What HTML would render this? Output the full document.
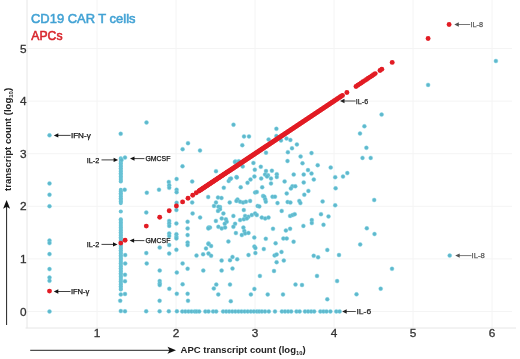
<!DOCTYPE html>
<html><head><meta charset="utf-8"><style>
html,body{margin:0;padding:0;background:#fff;}
body{width:520px;height:359px;overflow:hidden;}
svg{display:block;}
text{font-family:"Liberation Sans",Arial,sans-serif;}
</style></head><body>
<svg width="520" height="359" viewBox="0 0 520 359">
<rect width="520" height="359" fill="#fff"/>

<g stroke="#f4f4f4" stroke-width="1"><line x1="97" y1="0" x2="97" y2="328" /><line x1="176" y1="0" x2="176" y2="328" /><line x1="255" y1="0" x2="255" y2="328" /><line x1="334" y1="0" x2="334" y2="328" /><line x1="413" y1="0" x2="413" y2="328" /><line x1="492" y1="0" x2="492" y2="328" /><line x1="27" y1="311.5" x2="512" y2="311.5" /><line x1="27" y1="258.9" x2="512" y2="258.9" /><line x1="27" y1="206.3" x2="512" y2="206.3" /><line x1="27" y1="153.7" x2="512" y2="153.7" /><line x1="27" y1="101.1" x2="512" y2="101.1" /><line x1="27" y1="48.5" x2="512" y2="48.5" /></g>
<g stroke="#e6e6e6" stroke-width="1"><line x1="27" y1="0" x2="27" y2="328.2"/><line x1="25.5" y1="328" x2="516" y2="328"/></g>
<g font-size="11.8" fill="#333" stroke="#333" stroke-width="0.3"><text x="26.6" y="315.6" text-anchor="end">0</text><text x="26.6" y="263.0" text-anchor="end">1</text><text x="26.6" y="210.4" text-anchor="end">2</text><text x="26.6" y="157.8" text-anchor="end">3</text><text x="26.6" y="105.2" text-anchor="end">4</text><text x="26.6" y="52.6" text-anchor="end">5</text><text x="97" y="336.9" text-anchor="middle">1</text><text x="176" y="336.9" text-anchor="middle">2</text><text x="255" y="336.9" text-anchor="middle">3</text><text x="334" y="336.9" text-anchor="middle">4</text><text x="413" y="336.9" text-anchor="middle">5</text><text x="492" y="336.9" text-anchor="middle">6</text></g>
<text x="31" y="23.1" font-size="13" font-weight="normal" fill="#42a2d4" stroke="#42a2d4" stroke-width="0.55" textLength="104.5" lengthAdjust="spacingAndGlyphs">CD19 CAR T cells</text>
<text x="31.3" y="40.2" font-size="12.5" font-weight="normal" fill="#d8262d" stroke="#d8262d" stroke-width="0.55" textLength="31.2" lengthAdjust="spacingAndGlyphs">APCs</text>
<text x="180.6" y="353" font-size="9.9" font-weight="bold" fill="#222" textLength="125" lengthAdjust="spacingAndGlyphs">APC transcript count (log<tspan font-size="6" dy="2">10</tspan><tspan dy="-2">)</tspan></text>
<text transform="translate(10.5,191) rotate(-90)" x="0" y="0" font-size="9.6" font-weight="bold" fill="#222">transcript count (log<tspan font-size="6" dy="2">10</tspan><tspan dy="-2">)</tspan></text>
<g stroke="#222" stroke-width="1"><line x1="30.2" y1="350.3" x2="170" y2="350.3"/><line x1="6.6" y1="206" x2="6.6" y2="325"/></g>
<path d="M176,350.3 L167.5,346.8 L169.5,350.3 L167.5,353.8 Z" fill="#111"/>
<path d="M6.6,200 L3.1,208.8 L6.6,206.8 L10.1,208.8 Z" fill="#111"/>
<g fill="#68c2d5"><circle cx="120.8" cy="211.5" r="2.05"/><circle cx="120.8" cy="158.4" r="2.05"/><circle cx="120.8" cy="160.0" r="2.05"/><circle cx="120.8" cy="161.7" r="2.05"/><circle cx="120.8" cy="163.3" r="2.05"/><circle cx="120.8" cy="165.0" r="2.05"/><circle cx="120.8" cy="166.6" r="2.05"/><circle cx="120.8" cy="168.3" r="2.05"/><circle cx="120.8" cy="169.9" r="2.05"/><circle cx="120.8" cy="171.5" r="2.05"/><circle cx="120.8" cy="173.2" r="2.05"/><circle cx="120.8" cy="174.8" r="2.05"/><circle cx="120.8" cy="176.5" r="2.05"/><circle cx="120.8" cy="178.1" r="2.05"/><circle cx="120.8" cy="179.8" r="2.05"/><circle cx="120.8" cy="181.4" r="2.05"/><circle cx="120.8" cy="189.9" r="2.05"/><circle cx="120.8" cy="191.6" r="2.05"/><circle cx="120.8" cy="193.2" r="2.05"/><circle cx="120.8" cy="194.8" r="2.05"/><circle cx="120.8" cy="196.5" r="2.05"/><circle cx="120.8" cy="198.2" r="2.05"/><circle cx="120.8" cy="199.8" r="2.05"/><circle cx="120.8" cy="201.4" r="2.05"/><circle cx="120.8" cy="203.1" r="2.05"/><circle cx="120.8" cy="219.2" r="2.05"/><circle cx="120.8" cy="220.8" r="2.05"/><circle cx="120.8" cy="222.5" r="2.05"/><circle cx="120.8" cy="224.1" r="2.05"/><circle cx="120.8" cy="225.7" r="2.05"/><circle cx="120.8" cy="227.4" r="2.05"/><circle cx="120.8" cy="229.0" r="2.05"/><circle cx="120.8" cy="230.6" r="2.05"/><circle cx="120.8" cy="232.3" r="2.05"/><circle cx="120.8" cy="233.9" r="2.05"/><circle cx="120.8" cy="235.5" r="2.05"/><circle cx="120.8" cy="237.2" r="2.05"/><circle cx="120.8" cy="238.8" r="2.05"/><circle cx="120.8" cy="240.5" r="2.05"/><circle cx="120.8" cy="242.1" r="2.05"/><circle cx="120.8" cy="243.7" r="2.05"/><circle cx="120.8" cy="245.4" r="2.05"/><circle cx="120.8" cy="247.0" r="2.05"/><circle cx="120.8" cy="248.6" r="2.05"/><circle cx="120.8" cy="250.3" r="2.05"/><circle cx="120.8" cy="251.9" r="2.05"/><circle cx="120.8" cy="253.5" r="2.05"/><circle cx="120.8" cy="255.2" r="2.05"/><circle cx="120.8" cy="256.8" r="2.05"/><circle cx="120.8" cy="258.4" r="2.05"/><circle cx="120.8" cy="260.1" r="2.05"/><circle cx="120.8" cy="261.7" r="2.05"/><circle cx="120.8" cy="263.3" r="2.05"/><circle cx="120.8" cy="265.0" r="2.05"/><circle cx="120.8" cy="266.6" r="2.05"/><circle cx="120.8" cy="268.2" r="2.05"/><circle cx="120.8" cy="269.9" r="2.05"/><circle cx="120.8" cy="271.5" r="2.05"/><circle cx="120.8" cy="273.2" r="2.05"/><circle cx="120.8" cy="274.8" r="2.05"/><circle cx="120.8" cy="276.4" r="2.05"/><circle cx="120.8" cy="278.1" r="2.05"/><circle cx="120.8" cy="279.7" r="2.05"/><circle cx="120.8" cy="281.3" r="2.05"/><circle cx="120.8" cy="283.0" r="2.05"/><circle cx="120.8" cy="284.6" r="2.05"/><circle cx="120.8" cy="286.2" r="2.05"/><circle cx="120.8" cy="287.9" r="2.05"/><circle cx="120.8" cy="289.5" r="2.05"/></g>
<g fill="#5fb8cc" stroke="rgba(125,215,232,0.6)" stroke-width="0.7"><circle cx="49.5" cy="135.3" r="2.0"/><circle cx="120.7" cy="133.8" r="2.0"/><circle cx="146.5" cy="122.5" r="2.0"/><circle cx="125.0" cy="157.6" r="2.0"/><circle cx="121.5" cy="160.0" r="2.0"/><circle cx="49.5" cy="183.4" r="2.0"/><circle cx="49.5" cy="194.7" r="2.0"/><circle cx="124.7" cy="189.7" r="2.0"/><circle cx="146.8" cy="192.7" r="2.0"/><circle cx="159.0" cy="189.7" r="2.0"/><circle cx="233.5" cy="124.7" r="2.0"/><circle cx="244.0" cy="136.4" r="2.0"/><circle cx="249.0" cy="136.4" r="2.0"/><circle cx="242.3" cy="145.2" r="2.0"/><circle cx="188.0" cy="143.2" r="2.0"/><circle cx="182.6" cy="149.2" r="2.0"/><circle cx="200.0" cy="150.5" r="2.0"/><circle cx="182.5" cy="166.3" r="2.0"/><circle cx="216.0" cy="171.2" r="2.0"/><circle cx="235.5" cy="161.4" r="2.0"/><circle cx="168.8" cy="181.9" r="2.0"/><circle cx="169.2" cy="185.2" r="2.0"/><circle cx="169.2" cy="187.8" r="2.0"/><circle cx="176.6" cy="179.0" r="2.0"/><circle cx="192.2" cy="181.5" r="2.0"/><circle cx="176.6" cy="189.7" r="2.0"/><circle cx="176.6" cy="192.2" r="2.0"/><circle cx="176.6" cy="202.8" r="2.0"/><circle cx="192.2" cy="202.4" r="2.0"/><circle cx="208.2" cy="197.0" r="2.0"/><circle cx="218.0" cy="197.5" r="2.0"/><circle cx="221.5" cy="198.0" r="2.0"/><circle cx="223.8" cy="187.8" r="2.0"/><circle cx="228.7" cy="181.0" r="2.0"/><circle cx="230.0" cy="179.0" r="2.0"/><circle cx="236.5" cy="177.0" r="2.0"/><circle cx="237.5" cy="199.5" r="2.0"/><circle cx="229.7" cy="202.4" r="2.0"/><circle cx="216.0" cy="202.4" r="2.0"/><circle cx="214.0" cy="205.9" r="2.0"/><circle cx="220.0" cy="207.0" r="2.0"/><circle cx="276.4" cy="128.8" r="2.0"/><circle cx="268.6" cy="139.5" r="2.0"/><circle cx="276.4" cy="136.0" r="2.0"/><circle cx="281.0" cy="140.5" r="2.0"/><circle cx="286.5" cy="138.5" r="2.0"/><circle cx="290.4" cy="140.0" r="2.0"/><circle cx="296.9" cy="144.4" r="2.0"/><circle cx="292.0" cy="148.3" r="2.0"/><circle cx="287.9" cy="152.2" r="2.0"/><circle cx="266.0" cy="152.7" r="2.0"/><circle cx="311.5" cy="153.1" r="2.0"/><circle cx="300.6" cy="156.5" r="2.0"/><circle cx="287.5" cy="161.0" r="2.0"/><circle cx="302.5" cy="163.3" r="2.0"/><circle cx="317.7" cy="165.2" r="2.0"/><circle cx="330.7" cy="167.6" r="2.0"/><circle cx="234.9" cy="161.9" r="2.0"/><circle cx="238.8" cy="161.3" r="2.0"/><circle cx="242.7" cy="166.4" r="2.0"/><circle cx="253.4" cy="162.9" r="2.0"/><circle cx="260.8" cy="166.8" r="2.0"/><circle cx="254.8" cy="169.7" r="2.0"/><circle cx="266.0" cy="171.0" r="2.0"/><circle cx="271.9" cy="170.7" r="2.0"/><circle cx="265.0" cy="174.6" r="2.0"/><circle cx="268.0" cy="175.2" r="2.0"/><circle cx="267.0" cy="176.5" r="2.0"/><circle cx="276.8" cy="174.2" r="2.0"/><circle cx="276.8" cy="177.0" r="2.0"/><circle cx="254.4" cy="176.5" r="2.0"/><circle cx="261.2" cy="178.5" r="2.0"/><circle cx="250.5" cy="179.5" r="2.0"/><circle cx="247.5" cy="182.8" r="2.0"/><circle cx="236.8" cy="177.5" r="2.0"/><circle cx="231.0" cy="178.5" r="2.0"/><circle cx="271.0" cy="178.5" r="2.0"/><circle cx="271.0" cy="183.4" r="2.0"/><circle cx="284.6" cy="181.4" r="2.0"/><circle cx="293.7" cy="174.6" r="2.0"/><circle cx="303.7" cy="174.6" r="2.0"/><circle cx="308.0" cy="170.1" r="2.0"/><circle cx="311.5" cy="173.6" r="2.0"/><circle cx="313.8" cy="179.5" r="2.0"/><circle cx="303.7" cy="182.4" r="2.0"/><circle cx="292.4" cy="186.3" r="2.0"/><circle cx="295.3" cy="186.3" r="2.0"/><circle cx="240.7" cy="187.3" r="2.0"/><circle cx="262.2" cy="187.3" r="2.0"/><circle cx="381.6" cy="114.6" r="2.0"/><circle cx="364.4" cy="126.3" r="2.0"/><circle cx="360.0" cy="133.5" r="2.0"/><circle cx="366.4" cy="147.8" r="2.0"/><circle cx="362.5" cy="157.9" r="2.0"/><circle cx="370.7" cy="157.9" r="2.0"/><circle cx="495.9" cy="61.0" r="2.0"/><circle cx="428.1" cy="84.9" r="2.0"/><circle cx="146.3" cy="212.5" r="2.0"/><circle cx="146.3" cy="253.1" r="2.0"/><circle cx="159.7" cy="247.6" r="2.0"/><circle cx="169.2" cy="220.9" r="2.0"/><circle cx="169.2" cy="223.4" r="2.0"/><circle cx="169.2" cy="225.9" r="2.0"/><circle cx="169.2" cy="233.4" r="2.0"/><circle cx="169.2" cy="235.9" r="2.0"/><circle cx="169.2" cy="245.1" r="2.0"/><circle cx="169.2" cy="253.5" r="2.0"/><circle cx="176.4" cy="210.0" r="2.0"/><circle cx="176.4" cy="223.4" r="2.0"/><circle cx="176.4" cy="234.2" r="2.0"/><circle cx="176.4" cy="236.8" r="2.0"/><circle cx="176.4" cy="238.4" r="2.0"/><circle cx="176.4" cy="249.8" r="2.0"/><circle cx="187.6" cy="221.7" r="2.0"/><circle cx="187.6" cy="228.4" r="2.0"/><circle cx="187.6" cy="235.1" r="2.0"/><circle cx="187.6" cy="242.6" r="2.0"/><circle cx="187.6" cy="245.1" r="2.0"/><circle cx="192.6" cy="213.4" r="2.0"/><circle cx="200.1" cy="217.5" r="2.0"/><circle cx="208.5" cy="227.6" r="2.0"/><circle cx="208.5" cy="243.4" r="2.0"/><circle cx="206.0" cy="248.4" r="2.0"/><circle cx="203.1" cy="254.3" r="2.0"/><circle cx="196.5" cy="255.6" r="2.0"/><circle cx="208.5" cy="253.5" r="2.0"/><circle cx="255.1" cy="192.5" r="2.0"/><circle cx="256.8" cy="192.0" r="2.0"/><circle cx="263.1" cy="195.9" r="2.0"/><circle cx="264.3" cy="196.7" r="2.0"/><circle cx="265.2" cy="199.2" r="2.0"/><circle cx="236.4" cy="200.9" r="2.0"/><circle cx="240.1" cy="201.7" r="2.0"/><circle cx="243.1" cy="202.6" r="2.0"/><circle cx="245.9" cy="201.7" r="2.0"/><circle cx="250.1" cy="200.9" r="2.0"/><circle cx="218.4" cy="206.7" r="2.0"/><circle cx="220.0" cy="209.2" r="2.0"/><circle cx="218.0" cy="210.9" r="2.0"/><circle cx="257.6" cy="205.9" r="2.0"/><circle cx="259.3" cy="206.4" r="2.0"/><circle cx="243.8" cy="210.1" r="2.0"/><circle cx="223.4" cy="213.4" r="2.0"/><circle cx="233.4" cy="215.9" r="2.0"/><circle cx="245.1" cy="215.9" r="2.0"/><circle cx="248.4" cy="216.8" r="2.0"/><circle cx="251.8" cy="215.1" r="2.0"/><circle cx="255.1" cy="213.4" r="2.0"/><circle cx="256.8" cy="215.1" r="2.0"/><circle cx="221.7" cy="218.4" r="2.0"/><circle cx="225.9" cy="219.3" r="2.0"/><circle cx="226.7" cy="221.8" r="2.0"/><circle cx="224.7" cy="223.8" r="2.0"/><circle cx="215.9" cy="220.9" r="2.0"/><circle cx="240.1" cy="220.1" r="2.0"/><circle cx="243.8" cy="219.3" r="2.0"/><circle cx="246.8" cy="218.4" r="2.0"/><circle cx="261.8" cy="217.6" r="2.0"/><circle cx="265.2" cy="218.4" r="2.0"/><circle cx="268.5" cy="217.6" r="2.0"/><circle cx="235.1" cy="223.8" r="2.0"/><circle cx="210.0" cy="227.6" r="2.0"/><circle cx="208.4" cy="228.4" r="2.0"/><circle cx="218.4" cy="226.8" r="2.0"/><circle cx="221.7" cy="228.4" r="2.0"/><circle cx="225.1" cy="227.6" r="2.0"/><circle cx="233.4" cy="226.8" r="2.0"/><circle cx="243.4" cy="227.6" r="2.0"/><circle cx="244.3" cy="231.0" r="2.0"/><circle cx="245.1" cy="233.5" r="2.0"/><circle cx="241.8" cy="235.1" r="2.0"/><circle cx="235.9" cy="233.1" r="2.0"/><circle cx="254.3" cy="237.6" r="2.0"/><circle cx="228.4" cy="241.5" r="2.0"/><circle cx="290.9" cy="188.4" r="2.0"/><circle cx="308.4" cy="190.9" r="2.0"/><circle cx="286.7" cy="193.4" r="2.0"/><circle cx="304.3" cy="194.7" r="2.0"/><circle cx="272.5" cy="196.7" r="2.0"/><circle cx="275.0" cy="196.7" r="2.0"/><circle cx="265.8" cy="201.7" r="2.0"/><circle cx="277.5" cy="203.1" r="2.0"/><circle cx="287.6" cy="202.0" r="2.0"/><circle cx="290.4" cy="202.6" r="2.0"/><circle cx="299.3" cy="200.9" r="2.0"/><circle cx="300.4" cy="203.1" r="2.0"/><circle cx="322.6" cy="201.4" r="2.0"/><circle cx="281.7" cy="210.9" r="2.0"/><circle cx="290.1" cy="215.9" r="2.0"/><circle cx="292.6" cy="215.1" r="2.0"/><circle cx="294.7" cy="214.2" r="2.0"/><circle cx="321.0" cy="214.2" r="2.0"/><circle cx="328.5" cy="216.4" r="2.0"/><circle cx="311.8" cy="220.1" r="2.0"/><circle cx="311.8" cy="223.1" r="2.0"/><circle cx="323.5" cy="224.8" r="2.0"/><circle cx="303.4" cy="225.9" r="2.0"/><circle cx="273.0" cy="228.8" r="2.0"/><circle cx="285.9" cy="230.5" r="2.0"/><circle cx="290.1" cy="228.8" r="2.0"/><circle cx="265.8" cy="238.8" r="2.0"/><circle cx="283.4" cy="238.5" r="2.0"/><circle cx="286.7" cy="238.5" r="2.0"/><circle cx="335.2" cy="177.2" r="2.0"/><circle cx="343.0" cy="176.6" r="2.0"/><circle cx="347.3" cy="173.1" r="2.0"/><circle cx="335.6" cy="188.3" r="2.0"/><circle cx="335.2" cy="205.3" r="2.0"/><circle cx="374.2" cy="200.0" r="2.0"/><circle cx="366.8" cy="228.3" r="2.0"/><circle cx="248.5" cy="232.9" r="2.0"/><circle cx="208.5" cy="244.0" r="2.0"/><circle cx="211.1" cy="246.0" r="2.0"/><circle cx="254.4" cy="246.6" r="2.0"/><circle cx="255.4" cy="248.0" r="2.0"/><circle cx="263.8" cy="249.1" r="2.0"/><circle cx="211.1" cy="255.8" r="2.0"/><circle cx="221.6" cy="260.6" r="2.0"/><circle cx="230.0" cy="260.2" r="2.0"/><circle cx="232.5" cy="256.9" r="2.0"/><circle cx="237.2" cy="259.3" r="2.0"/><circle cx="248.5" cy="255.0" r="2.0"/><circle cx="255.4" cy="253.0" r="2.0"/><circle cx="203.3" cy="270.6" r="2.0"/><circle cx="221.6" cy="270.6" r="2.0"/><circle cx="232.5" cy="268.6" r="2.0"/><circle cx="259.9" cy="275.9" r="2.0"/><circle cx="216.3" cy="284.6" r="2.0"/><circle cx="213.8" cy="288.5" r="2.0"/><circle cx="230.0" cy="284.6" r="2.0"/><circle cx="218.3" cy="294.4" r="2.0"/><circle cx="254.4" cy="288.9" r="2.0"/><circle cx="250.9" cy="294.4" r="2.0"/><circle cx="267.7" cy="294.4" r="2.0"/><circle cx="275.6" cy="243.3" r="2.0"/><circle cx="293.6" cy="241.7" r="2.0"/><circle cx="281.5" cy="251.9" r="2.0"/><circle cx="274.6" cy="255.4" r="2.0"/><circle cx="276.6" cy="254.4" r="2.0"/><circle cx="276.6" cy="262.2" r="2.0"/><circle cx="283.8" cy="260.6" r="2.0"/><circle cx="274.0" cy="271.0" r="2.0"/><circle cx="313.7" cy="255.8" r="2.0"/><circle cx="318.1" cy="257.3" r="2.0"/><circle cx="327.3" cy="249.9" r="2.0"/><circle cx="339.0" cy="255.0" r="2.0"/><circle cx="317.0" cy="275.9" r="2.0"/><circle cx="337.1" cy="281.1" r="2.0"/><circle cx="295.5" cy="284.6" r="2.0"/><circle cx="302.0" cy="285.0" r="2.0"/><circle cx="283.0" cy="294.4" r="2.0"/><circle cx="327.3" cy="299.3" r="2.0"/><circle cx="374.5" cy="234.0" r="2.0"/><circle cx="360.2" cy="244.4" r="2.0"/><circle cx="392.0" cy="268.8" r="2.0"/><circle cx="380.7" cy="288.7" r="2.0"/><circle cx="146.7" cy="263.4" r="2.0"/><circle cx="182.6" cy="263.4" r="2.0"/><circle cx="187.6" cy="268.7" r="2.0"/><circle cx="159.7" cy="270.6" r="2.0"/><circle cx="176.8" cy="272.6" r="2.0"/><circle cx="159.7" cy="281.0" r="2.0"/><circle cx="159.7" cy="283.4" r="2.0"/><circle cx="159.7" cy="285.1" r="2.0"/><circle cx="182.6" cy="284.3" r="2.0"/><circle cx="169.3" cy="288.8" r="2.0"/><circle cx="176.8" cy="293.8" r="2.0"/><circle cx="187.6" cy="293.8" r="2.0"/><circle cx="125.0" cy="274.8" r="2.0"/><circle cx="125.0" cy="281.2" r="2.0"/><circle cx="125.0" cy="294.0" r="2.0"/><circle cx="120.2" cy="300.8" r="2.0"/><circle cx="125.0" cy="311.3" r="2.0"/><circle cx="146.2" cy="311.3" r="2.0"/><circle cx="159.6" cy="300.8" r="2.0"/><circle cx="159.6" cy="311.3" r="2.0"/><circle cx="168.8" cy="311.3" r="2.0"/><circle cx="176.9" cy="311.3" r="2.0"/><circle cx="188.0" cy="300.8" r="2.0"/><circle cx="230.8" cy="301.2" r="2.0"/><circle cx="356.5" cy="294.3" r="2.0"/><circle cx="182.3" cy="311.4" r="2.0"/><circle cx="185.4" cy="311.4" r="2.0"/><circle cx="188.5" cy="311.4" r="2.0"/><circle cx="191.5" cy="311.4" r="2.0"/><circle cx="194.6" cy="311.4" r="2.0"/><circle cx="196.6" cy="311.4" r="2.0"/><circle cx="199.2" cy="311.4" r="2.0"/><circle cx="205.4" cy="311.4" r="2.0"/><circle cx="208.5" cy="311.4" r="2.0"/><circle cx="213.1" cy="311.4" r="2.0"/><circle cx="216.2" cy="311.4" r="2.0"/><circle cx="223.1" cy="311.4" r="2.0"/><circle cx="226.2" cy="311.4" r="2.0"/><circle cx="229.2" cy="311.4" r="2.0"/><circle cx="232.3" cy="311.4" r="2.0"/><circle cx="235.4" cy="311.4" r="2.0"/><circle cx="238.5" cy="311.4" r="2.0"/><circle cx="241.5" cy="311.4" r="2.0"/><circle cx="244.6" cy="311.4" r="2.0"/><circle cx="247.7" cy="311.4" r="2.0"/><circle cx="250.8" cy="311.4" r="2.0"/><circle cx="253.8" cy="311.4" r="2.0"/><circle cx="256.9" cy="311.4" r="2.0"/><circle cx="259.2" cy="311.4" r="2.0"/><circle cx="261.9" cy="311.4" r="2.0"/><circle cx="265.0" cy="311.4" r="2.0"/><circle cx="268.8" cy="311.4" r="2.0"/><circle cx="275.0" cy="311.4" r="2.0"/><circle cx="281.9" cy="311.4" r="2.0"/><circle cx="285.0" cy="311.4" r="2.0"/><circle cx="288.1" cy="311.4" r="2.0"/><circle cx="291.2" cy="311.4" r="2.0"/><circle cx="296.5" cy="311.4" r="2.0"/><circle cx="299.6" cy="311.4" r="2.0"/><circle cx="305.0" cy="311.4" r="2.0"/><circle cx="308.1" cy="311.4" r="2.0"/><circle cx="311.2" cy="311.4" r="2.0"/><circle cx="314.2" cy="311.4" r="2.0"/><circle cx="320.4" cy="311.4" r="2.0"/><circle cx="323.5" cy="311.4" r="2.0"/><circle cx="326.5" cy="311.4" r="2.0"/><circle cx="330.4" cy="311.4" r="2.0"/><circle cx="336.3" cy="311.4" r="2.0"/><circle cx="339.6" cy="311.4" r="2.0"/><circle cx="49.5" cy="206.2" r="2.0"/><circle cx="49.5" cy="240.6" r="2.0"/><circle cx="49.5" cy="243.1" r="2.0"/><circle cx="49.5" cy="254.1" r="2.0"/><circle cx="49.5" cy="269.1" r="2.0"/><circle cx="49.5" cy="277.5" r="2.0"/><circle cx="49.5" cy="280.8" r="2.0"/><circle cx="49.5" cy="311.5" r="2.0"/><circle cx="125.2" cy="255.1" r="2.0"/><circle cx="125.2" cy="263.5" r="2.0"/><circle cx="120.8" cy="294.4" r="2.0"/><circle cx="120.8" cy="311.1" r="2.0"/><circle cx="449.7" cy="255.6" r="2.0"/></g>
<g fill="#e21c24"><circle cx="49.5" cy="291.1" r="2.45"/><circle cx="120.8" cy="243.1" r="2.45"/><circle cx="125.1" cy="240.2" r="2.45"/><circle cx="146.3" cy="226.1" r="2.45"/><circle cx="159.7" cy="217.2" r="2.45"/><circle cx="169.2" cy="210.8" r="2.45"/><circle cx="176.4" cy="206.0" r="2.45"/><circle cx="182.6" cy="201.9" r="2.45"/><circle cx="188.0" cy="198.3" r="2.45"/><circle cx="192.7" cy="195.2" r="2.45"/><circle cx="196.3" cy="192.8" r="2.45"/><circle cx="199.0" cy="191.0" r="2.45"/><circle cx="200.0" cy="190.3" r="2.45"/><circle cx="201.0" cy="189.7" r="2.45"/><circle cx="202.0" cy="189.0" r="2.45"/><circle cx="203.0" cy="188.3" r="2.45"/><circle cx="204.0" cy="187.7" r="2.45"/><circle cx="205.0" cy="187.0" r="2.45"/><circle cx="206.0" cy="186.3" r="2.45"/><circle cx="207.0" cy="185.7" r="2.45"/><circle cx="208.0" cy="185.0" r="2.45"/><circle cx="209.0" cy="184.3" r="2.45"/><circle cx="210.0" cy="183.7" r="2.45"/><circle cx="211.0" cy="183.0" r="2.45"/><circle cx="212.0" cy="182.3" r="2.45"/><circle cx="213.0" cy="181.7" r="2.45"/><circle cx="214.0" cy="181.0" r="2.45"/><circle cx="215.0" cy="180.3" r="2.45"/><circle cx="216.0" cy="179.7" r="2.45"/><circle cx="217.0" cy="179.0" r="2.45"/><circle cx="218.0" cy="178.3" r="2.45"/><circle cx="219.0" cy="177.7" r="2.45"/><circle cx="220.0" cy="177.0" r="2.45"/><circle cx="221.0" cy="176.3" r="2.45"/><circle cx="222.0" cy="175.7" r="2.45"/><circle cx="223.0" cy="175.0" r="2.45"/><circle cx="224.0" cy="174.3" r="2.45"/><circle cx="225.0" cy="173.7" r="2.45"/><circle cx="226.0" cy="173.0" r="2.45"/><circle cx="227.0" cy="172.3" r="2.45"/><circle cx="228.0" cy="171.7" r="2.45"/><circle cx="229.0" cy="171.0" r="2.45"/><circle cx="230.0" cy="170.4" r="2.45"/><circle cx="231.0" cy="169.7" r="2.45"/><circle cx="232.0" cy="169.0" r="2.45"/><circle cx="233.0" cy="168.4" r="2.45"/><circle cx="234.0" cy="167.7" r="2.45"/><circle cx="235.0" cy="167.0" r="2.45"/><circle cx="236.0" cy="166.4" r="2.45"/><circle cx="237.0" cy="165.7" r="2.45"/><circle cx="238.0" cy="165.0" r="2.45"/><circle cx="239.0" cy="164.4" r="2.45"/><circle cx="240.0" cy="163.7" r="2.45"/><circle cx="241.0" cy="163.0" r="2.45"/><circle cx="242.0" cy="162.4" r="2.45"/><circle cx="243.0" cy="161.7" r="2.45"/><circle cx="244.0" cy="161.0" r="2.45"/><circle cx="245.0" cy="160.4" r="2.45"/><circle cx="246.0" cy="159.7" r="2.45"/><circle cx="247.0" cy="159.0" r="2.45"/><circle cx="248.0" cy="158.4" r="2.45"/><circle cx="249.0" cy="157.7" r="2.45"/><circle cx="250.0" cy="157.0" r="2.45"/><circle cx="251.0" cy="156.4" r="2.45"/><circle cx="252.0" cy="155.7" r="2.45"/><circle cx="253.0" cy="155.0" r="2.45"/><circle cx="254.0" cy="154.4" r="2.45"/><circle cx="255.0" cy="153.7" r="2.45"/><circle cx="256.0" cy="153.0" r="2.45"/><circle cx="257.0" cy="152.4" r="2.45"/><circle cx="258.0" cy="151.7" r="2.45"/><circle cx="259.0" cy="151.0" r="2.45"/><circle cx="260.0" cy="150.4" r="2.45"/><circle cx="261.0" cy="149.7" r="2.45"/><circle cx="262.0" cy="149.0" r="2.45"/><circle cx="263.0" cy="148.4" r="2.45"/><circle cx="264.0" cy="147.7" r="2.45"/><circle cx="265.0" cy="147.0" r="2.45"/><circle cx="266.0" cy="146.4" r="2.45"/><circle cx="267.0" cy="145.7" r="2.45"/><circle cx="268.0" cy="145.1" r="2.45"/><circle cx="269.0" cy="144.4" r="2.45"/><circle cx="270.0" cy="143.7" r="2.45"/><circle cx="271.0" cy="143.1" r="2.45"/><circle cx="272.0" cy="142.4" r="2.45"/><circle cx="273.0" cy="141.7" r="2.45"/><circle cx="274.0" cy="141.1" r="2.45"/><circle cx="275.0" cy="140.4" r="2.45"/><circle cx="276.0" cy="139.7" r="2.45"/><circle cx="277.0" cy="139.1" r="2.45"/><circle cx="278.0" cy="138.4" r="2.45"/><circle cx="279.0" cy="137.7" r="2.45"/><circle cx="280.0" cy="137.1" r="2.45"/><circle cx="281.0" cy="136.4" r="2.45"/><circle cx="282.0" cy="135.7" r="2.45"/><circle cx="283.0" cy="135.1" r="2.45"/><circle cx="284.0" cy="134.4" r="2.45"/><circle cx="285.0" cy="133.7" r="2.45"/><circle cx="286.0" cy="133.1" r="2.45"/><circle cx="287.0" cy="132.4" r="2.45"/><circle cx="288.0" cy="131.7" r="2.45"/><circle cx="289.0" cy="131.1" r="2.45"/><circle cx="290.0" cy="130.4" r="2.45"/><circle cx="291.0" cy="129.7" r="2.45"/><circle cx="292.0" cy="129.1" r="2.45"/><circle cx="293.0" cy="128.4" r="2.45"/><circle cx="294.0" cy="127.7" r="2.45"/><circle cx="295.0" cy="127.1" r="2.45"/><circle cx="296.0" cy="126.4" r="2.45"/><circle cx="297.0" cy="125.7" r="2.45"/><circle cx="298.0" cy="125.1" r="2.45"/><circle cx="299.0" cy="124.4" r="2.45"/><circle cx="300.0" cy="123.7" r="2.45"/><circle cx="301.0" cy="123.1" r="2.45"/><circle cx="302.0" cy="122.4" r="2.45"/><circle cx="303.0" cy="121.7" r="2.45"/><circle cx="304.0" cy="121.1" r="2.45"/><circle cx="305.0" cy="120.4" r="2.45"/><circle cx="306.0" cy="119.7" r="2.45"/><circle cx="307.0" cy="119.1" r="2.45"/><circle cx="308.0" cy="118.4" r="2.45"/><circle cx="309.0" cy="117.8" r="2.45"/><circle cx="310.0" cy="117.1" r="2.45"/><circle cx="311.0" cy="116.4" r="2.45"/><circle cx="312.0" cy="115.8" r="2.45"/><circle cx="313.0" cy="115.1" r="2.45"/><circle cx="314.0" cy="114.4" r="2.45"/><circle cx="315.0" cy="113.8" r="2.45"/><circle cx="316.0" cy="113.1" r="2.45"/><circle cx="317.0" cy="112.4" r="2.45"/><circle cx="318.0" cy="111.8" r="2.45"/><circle cx="319.0" cy="111.1" r="2.45"/><circle cx="320.0" cy="110.4" r="2.45"/><circle cx="321.0" cy="109.8" r="2.45"/><circle cx="322.0" cy="109.1" r="2.45"/><circle cx="323.0" cy="108.4" r="2.45"/><circle cx="324.0" cy="107.8" r="2.45"/><circle cx="325.0" cy="107.1" r="2.45"/><circle cx="326.0" cy="106.4" r="2.45"/><circle cx="327.0" cy="105.8" r="2.45"/><circle cx="328.0" cy="105.1" r="2.45"/><circle cx="329.0" cy="104.4" r="2.45"/><circle cx="330.0" cy="103.8" r="2.45"/><circle cx="331.0" cy="103.1" r="2.45"/><circle cx="332.0" cy="102.4" r="2.45"/><circle cx="332.5" cy="102.1" r="2.45"/><circle cx="333.5" cy="101.4" r="2.45"/><circle cx="334.5" cy="100.8" r="2.45"/><circle cx="335.5" cy="100.1" r="2.45"/><circle cx="336.5" cy="99.4" r="2.45"/><circle cx="337.5" cy="98.8" r="2.45"/><circle cx="338.5" cy="98.1" r="2.45"/><circle cx="339.5" cy="97.4" r="2.45"/><circle cx="340.5" cy="96.8" r="2.45"/><circle cx="341.5" cy="96.1" r="2.45"/><circle cx="342.5" cy="95.4" r="2.45"/><circle cx="346.9" cy="92.5" r="2.45"/><circle cx="356.0" cy="86.5" r="2.45"/><circle cx="357.8" cy="85.3" r="2.45"/><circle cx="359.5" cy="84.1" r="2.45"/><circle cx="361.2" cy="83.0" r="2.45"/><circle cx="363.0" cy="81.8" r="2.45"/><circle cx="364.8" cy="80.6" r="2.45"/><circle cx="366.5" cy="79.5" r="2.45"/><circle cx="368.2" cy="78.3" r="2.45"/><circle cx="370.0" cy="77.1" r="2.45"/><circle cx="371.8" cy="76.0" r="2.45"/><circle cx="373.5" cy="74.8" r="2.45"/><circle cx="375.2" cy="73.6" r="2.45"/><circle cx="380.0" cy="70.5" r="2.45"/><circle cx="381.8" cy="69.3" r="2.45"/><circle cx="392.2" cy="62.4" r="2.45"/><circle cx="428.1" cy="38.5" r="2.45"/><circle cx="449.1" cy="24.5" r="2.45"/></g>
<line x1="56.8" y1="135.4" x2="70.6" y2="135.4" stroke="#111" stroke-width="0.8"/><path d="M53.8,135.4 L58.3,133.20000000000002 L58.3,137.6 Z" fill="#111"/><text x="70.9" y="138.0" font-size="7.5" fill="#111" stroke="#111" stroke-width="0.25" textLength="19.8" lengthAdjust="spacingAndGlyphs">IFN-γ</text><line x1="56.8" y1="291.5" x2="70.6" y2="291.5" stroke="#111" stroke-width="0.8"/><path d="M53.8,291.5 L58.3,289.3 L58.3,293.7 Z" fill="#111"/><text x="70.9" y="294.1" font-size="7.5" fill="#111" stroke="#111" stroke-width="0.25" textLength="18.5" lengthAdjust="spacingAndGlyphs">IFN-γ</text><text x="86.7" y="162.5" font-size="7.5" fill="#111" stroke="#111" stroke-width="0.25" textLength="12.5" lengthAdjust="spacingAndGlyphs">IL-2</text><line x1="101.5" y1="159.9" x2="115.1" y2="159.9" stroke="#111" stroke-width="0.8"/><path d="M118.1,159.9 L113.6,157.70000000000002 L113.6,162.1 Z" fill="#111"/><text x="86.7" y="247.0" font-size="7.5" fill="#111" stroke="#111" stroke-width="0.25" textLength="12.5" lengthAdjust="spacingAndGlyphs">IL-2</text><line x1="101.5" y1="244.4" x2="114.5" y2="244.4" stroke="#111" stroke-width="0.8"/><path d="M117.5,244.4 L113.0,242.20000000000002 L113.0,246.6 Z" fill="#111"/><line x1="133" y1="158.6" x2="144.4" y2="158.6" stroke="#111" stroke-width="0.8"/><path d="M130,158.6 L134.5,156.4 L134.5,160.79999999999998 Z" fill="#111"/><text x="145.4" y="161.2" font-size="7.5" fill="#111" stroke="#111" stroke-width="0.25" textLength="25" lengthAdjust="spacingAndGlyphs">GMCSF</text><line x1="132.6" y1="240.6" x2="144.4" y2="240.6" stroke="#111" stroke-width="0.8"/><path d="M129.6,240.6 L134.1,238.4 L134.1,242.79999999999998 Z" fill="#111"/><text x="145.4" y="243.2" font-size="7.5" fill="#111" stroke="#111" stroke-width="0.25" textLength="25" lengthAdjust="spacingAndGlyphs">GMCSF</text><g opacity="0.92"><line x1="343" y1="101" x2="355.6" y2="101" stroke="#111" stroke-width="0.8"/><path d="M340,101 L344.5,98.8 L344.5,103.2 Z" fill="#111"/><text x="355.8" y="103.6" font-size="7.5" fill="#111" stroke="#111" stroke-width="0.25" textLength="12.4" lengthAdjust="spacingAndGlyphs">IL-6</text><line x1="345.2" y1="311.5" x2="355.8" y2="311.5" stroke="#111" stroke-width="0.8"/><path d="M342.2,311.5 L346.7,309.3 L346.7,313.7 Z" fill="#111"/><text x="356.5" y="314.1" font-size="7.5" fill="#111" stroke="#111" stroke-width="0.25" textLength="14.7" lengthAdjust="spacingAndGlyphs">IL-6</text></g><g opacity="0.72"><line x1="457.3" y1="24.5" x2="470.2" y2="24.5" stroke="#111" stroke-width="0.8"/><path d="M454.3,24.5 L458.8,22.3 L458.8,26.7 Z" fill="#111"/><text x="470.4" y="27.1" font-size="7.5" fill="#111" stroke="#111" stroke-width="0.25" textLength="12.6" lengthAdjust="spacingAndGlyphs">IL-8</text><line x1="458.2" y1="255.6" x2="471.5" y2="255.6" stroke="#111" stroke-width="0.8"/><path d="M455.2,255.6 L459.7,253.4 L459.7,257.8 Z" fill="#111"/><text x="471.6" y="258.2" font-size="7.5" fill="#111" stroke="#111" stroke-width="0.25" textLength="13.2" lengthAdjust="spacingAndGlyphs">IL-8</text></g>
</svg></body></html>
